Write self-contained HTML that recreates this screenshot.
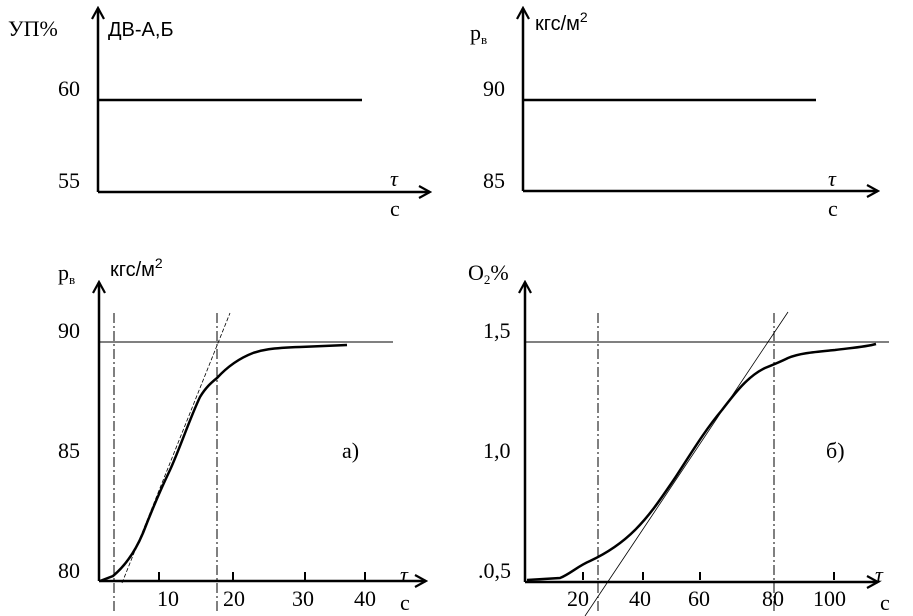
<!DOCTYPE html>
<html><head><meta charset="utf-8"><style>
html,body{margin:0;padding:0;background:#fff;}
svg{display:block;}
text{font-family:"Liberation Serif",serif;font-size:22px;fill:#000;}
.s{font-family:"Liberation Sans",sans-serif;font-size:20px;}
</style></head><body>
<svg width="913" height="616" viewBox="0 0 913 616" xmlns="http://www.w3.org/2000/svg">
<defs><marker id="a" markerWidth="14" markerHeight="14" refX="12" refY="7" orient="auto" markerUnits="userSpaceOnUse"><path d="M1,1 L12,7 L1,13" fill="none" stroke="#000" stroke-width="2.2"/></marker></defs>
<g stroke="#000" fill="none">
<line x1="98" y1="192" x2="98" y2="8" stroke-width="2.5" marker-end="url(#a)"/>
<line x1="98" y1="192" x2="430" y2="192" stroke-width="2.5" marker-end="url(#a)"/>
<line x1="98" y1="100" x2="362" y2="100" stroke-width="2.5"/>
<line x1="523" y1="191" x2="523" y2="8" stroke-width="2.5" marker-end="url(#a)"/>
<line x1="523" y1="191" x2="878" y2="191" stroke-width="2.5" marker-end="url(#a)"/>
<line x1="523" y1="100" x2="816" y2="100" stroke-width="2.5"/>
<line x1="99" y1="581" x2="99" y2="282" stroke-width="2.5" marker-end="url(#a)"/>
<line x1="99" y1="581" x2="426" y2="581" stroke-width="2.5" marker-end="url(#a)"/>
<line x1="100" y1="342" x2="393" y2="342" stroke-width="1"/>
<line x1="114" y1="313" x2="114" y2="612" stroke-width="1" stroke-dasharray="10,3,2,3"/>
<line x1="217" y1="313" x2="217" y2="612" stroke-width="1" stroke-dasharray="10,3,2,3"/>
<line x1="122" y1="583" x2="230" y2="313" stroke-width="0.8" stroke-dasharray="4,2"/>
<path d="M159,572v8M233,572v8M305,572v8M365,572v8" stroke-width="2"/>
<path stroke-width="2.5" d="M100,581 L113,576 C125,566 135,552 143,533 C150,515 158,495 170,470 C180,448 190,418 200,397 C206,387 212,382 217,378 C228,366 240,358 253,353 C262,350 270,348 300,347 L347,345"/>
<line x1="525" y1="582" x2="525" y2="282" stroke-width="2.5" marker-end="url(#a)"/>
<line x1="525" y1="582" x2="878" y2="582" stroke-width="2.5" marker-end="url(#a)"/>
<line x1="525" y1="342" x2="889" y2="342" stroke-width="1"/>
<line x1="598" y1="313" x2="598" y2="612" stroke-width="1" stroke-dasharray="10,3,2,3"/>
<line x1="774" y1="313" x2="774" y2="612" stroke-width="1" stroke-dasharray="10,3,2,3"/>
<line x1="585" y1="616" x2="788" y2="312" stroke-width="0.8"/>
<path d="M583,572v8M643,572v8M700,572v8M834,572v8" stroke-width="2"/>
<path stroke-width="2.5" d="M527,580 L560,578 C570,574 578,566 590,561 C605,554 620,545 635,530 C650,515 660,500 675,478 C690,455 705,430 722,410 C735,393 748,376 765,368 C775,364 780,362 788,358 C800,353 815,352 835,350 C850,348 865,347 876,344"/>
</g>
<text x="8" y="36">УП%</text>
<text x="108" y="36" class="s">ДВ-А,Б</text>
<text x="58" y="96">60</text>
<text x="58" y="188">55</text>
<text x="390" y="186" font-style="italic">τ</text>
<text x="390" y="216">с</text>
<text x="470" y="40">р<tspan font-size="13" dy="4">в</tspan></text>
<text x="535" y="30" class="s">кгс/м<tspan font-size="14" dy="-8">2</tspan></text>
<text x="483" y="96">90</text>
<text x="483" y="188">85</text>
<text x="828" y="186" font-style="italic">τ</text>
<text x="828" y="216">с</text>
<text x="58" y="280">р<tspan font-size="13" dy="4">в</tspan></text>
<text x="110" y="276" class="s">кгс/м<tspan font-size="14" dy="-8">2</tspan></text>
<text x="58" y="338">90</text>
<text x="58" y="458">85</text>
<text x="58" y="578">80</text>
<text x="342" y="458">а)</text>
<text x="157" y="606">10</text>
<text x="223" y="606">20</text>
<text x="292" y="606">30</text>
<text x="354" y="606">40</text>
<text x="400" y="582" font-style="italic">τ</text>
<text x="400" y="610">с</text>
<text x="468" y="280">O<tspan font-size="13" dy="4">2</tspan><tspan dy="-4">%</tspan></text>
<text x="483" y="338">1,5</text>
<text x="483" y="458">1,0</text>
<text x="478" y="578">.0,5</text>
<text x="826" y="458">б)</text>
<text x="567" y="606">20</text>
<text x="629" y="606">40</text>
<text x="688" y="606">60</text>
<text x="762" y="606">80</text>
<text x="813" y="606">100</text>
<text x="875" y="582" font-style="italic">τ</text>
<text x="880" y="610">с</text>
</svg>
</body></html>
